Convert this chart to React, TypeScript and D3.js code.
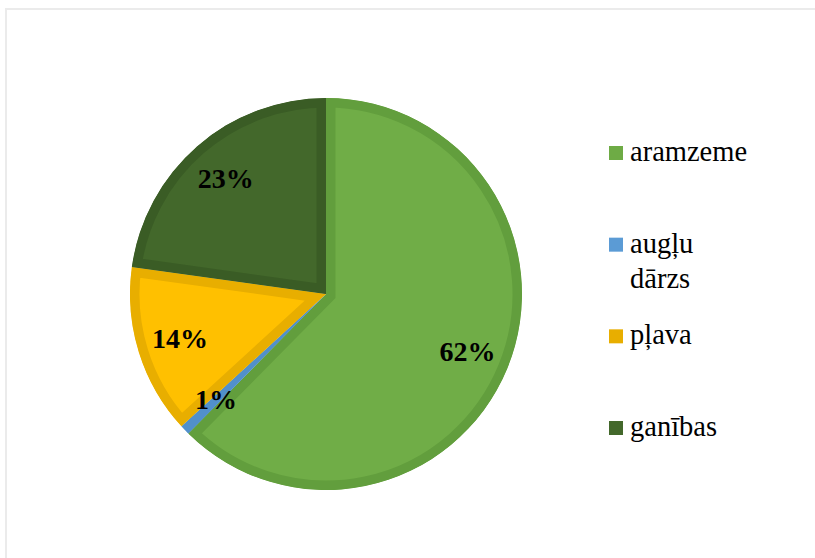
import React from "react";
import * as d3 from "d3";

// slice categories and shares (%)
const categories = ["aramzeme", "augļu dārzs", "pļava", "ganības"];
const shares = [62.4, 0.8, 14.0, 22.8];
const labels = ["62%", "1%", "14%", "23%"];
// legend text lines (long names wrap in the original)
const legendLines = [["aramzeme"], ["augļu", "dārzs"], ["pļava"], ["ganības"]];

const fills = ["#70AD47", "#5B9BD5", "#FFC000", "#43682B"];
const borders = ["#629E3D", "#5190CB", "#E8AE00", "#3A5C25"];
const legendFills = ["#6EAB45", "#5B9BD5", "#E8AE00", "#43682B"];

export default function App() {
  const width = 815;
  const height = 558;
  const cx = 326;
  const cy = 294;
  const radius = 196;

  const data = categories.map((c, i) => ({ name: c, value: shares[i] }));
  const arcs = d3
    .pie<any>()
    .sort(null)
    .value((d) => d.value)(data);
  const arc = d3.arc<any>().innerRadius(0).outerRadius(radius);
  const labelArc = d3
    .arc<any>()
    .innerRadius(radius * 0.78)
    .outerRadius(radius * 0.78);

  const legendY = d3.scalePoint().domain(categories).range([161, 436]);

  return (
    <svg
      width={width}
      height={height}
      fontFamily="Liberation Serif"
      style={{ position: "absolute", left: 0, top: 0, display: "block" }}
    >
      {/* chart area frame: only top and left edges fall inside the picture */}
      <rect x={6} y={9} width={width + 20} height={height + 20} fill="#fff" stroke="#EBEBEB" strokeWidth={2} />
      <defs>
        {arcs.map((a, i) => (
          <clipPath key={i} id={"slice-clip-" + i}>
            <path d={arc(a) as string} />
          </clipPath>
        ))}
      </defs>
      <g transform={`translate(${cx},${cy})`}>
        {arcs.map((a, i) => (
          <path
            key={i}
            d={arc(a) as string}
            fill={fills[i]}
            stroke={borders[i]}
            strokeWidth={19}
            strokeLinejoin="miter"
            clipPath={`url(#slice-clip-${i})`}
          />
        ))}
        {arcs.map((a, i) => {
          const [x, y] = labelArc.centroid(a);
          return (
            <text
              key={i}
              x={x}
              y={y + 9}
              textAnchor="middle"
              fontFamily="Liberation Serif"
              fontWeight="bold"
              fontSize={28}
              fill="#000"
            >
              {labels[i]}
            </text>
          );
        })}
      </g>
      <g>
        {categories.map((c, i) => {
          const y = legendY(c) as number;
          return (
            <g key={c}>
              <rect x={609} y={y - 15} width={14} height={14} fill={legendFills[i]} />
              <text x={630} y={y} fontFamily="Liberation Serif" fontSize={28.5} fill="#000">
                {legendLines[i].map((line, j) => (
                  <tspan key={j} x={630} dy={j === 0 ? 0 : 35}>
                    {line}
                  </tspan>
                ))}
              </text>
            </g>
          );
        })}
      </g>
    </svg>
  );
}
